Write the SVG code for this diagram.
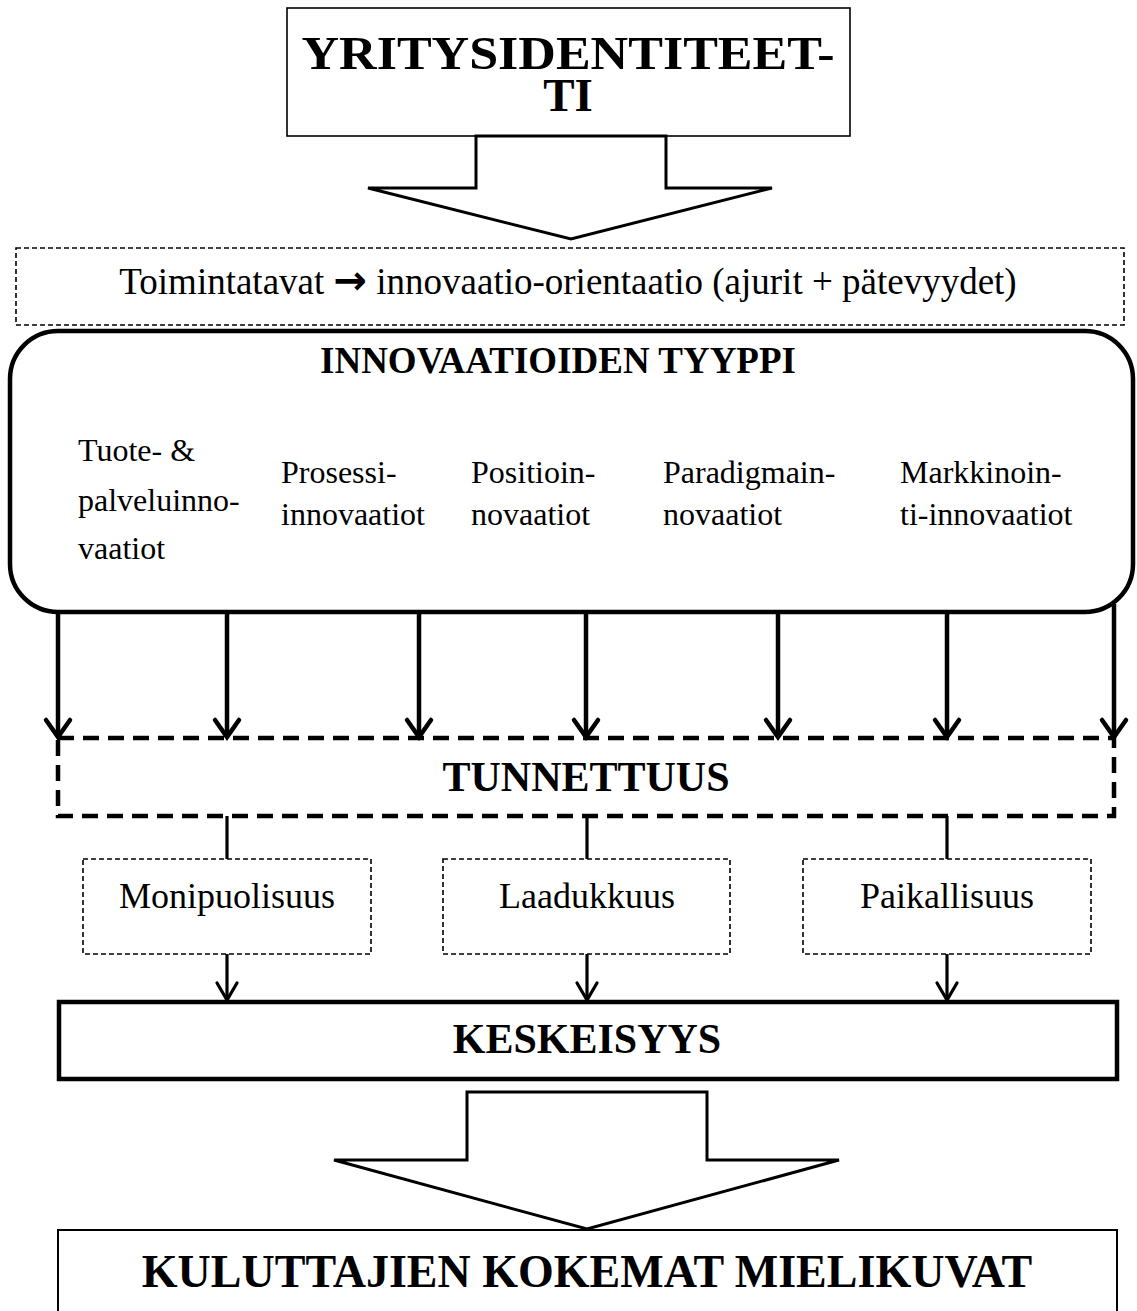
<svg xmlns="http://www.w3.org/2000/svg" width="1137" height="1311" viewBox="0 0 1137 1311">
<defs>
<style>
.t{font-family:"Liberation Serif","Times New Roman",serif;fill:#000}
.b{font-weight:bold}
.box{fill:#fff;stroke:#000}
.thin{stroke-width:1.6}
.dash{fill:#fff;stroke:#000;stroke-width:1.6;stroke-dasharray:5 3}
.hdash{fill:#fff;stroke:#000;stroke-width:4.5;stroke-dasharray:16 9}
.blk{fill:#fff;stroke:#000;stroke-width:3;stroke-linejoin:miter}
.c{fill:none;stroke:#000;stroke-width:4.5}
.c2{fill:none;stroke:#000;stroke-width:3.2}
</style>
<marker id="ah" markerUnits="userSpaceOnUse" viewBox="-20 -15 25 30" refX="0" refY="0" markerWidth="25" markerHeight="30" orient="auto" overflow="visible">
<path d="M-17,-12 L0,0 L-17,12" fill="none" stroke="#000" stroke-width="4.5" stroke-linejoin="miter" stroke-linecap="round"/>
</marker>
<marker id="ah2" markerUnits="userSpaceOnUse" viewBox="-20 -15 25 30" refX="0" refY="0" markerWidth="25" markerHeight="30" orient="auto" overflow="visible">
<path d="M-17,-10 L0,0 L-17,10" fill="none" stroke="#000" stroke-width="3.2" stroke-linejoin="miter" stroke-linecap="round"/>
</marker>
</defs>
<rect width="1137" height="1311" fill="#fff"/>

<g id="yritysidentiteetti">
<rect class="box thin" x="287" y="8" width="563" height="128"/>
<text class="t b" x="568" y="69" font-size="47" text-anchor="middle" textLength="533" lengthAdjust="spacingAndGlyphs">YRITYSIDENTITEET-</text>
<text class="t b" x="568" y="111" font-size="47" text-anchor="middle">TI</text>
</g>

<g id="arrow1">
<path class="blk" d="M476,136 L666,136 L666,188 L772,188 L571,239 L368,188 L476,188 Z"/>
</g>

<g id="toimintatavat">
<rect class="dash" x="16" y="248" width="1108" height="77"/>
<text class="t" x="568" y="294" font-size="37" text-anchor="middle">Toimintatavat <tspan font-family="DejaVu Sans, sans-serif" font-weight="bold" font-size="40">→</tspan> innovaatio-orientaatio (ajurit + pätevyydet)</text>
</g>

<g id="innovaatioiden-tyyppi">
<rect class="box" stroke-width="4.5" x="10" y="331" width="1123" height="281" rx="48" ry="48"/>
<text class="t b" x="558" y="373" font-size="37" text-anchor="middle">INNOVAATIOIDEN TYYPPI</text>
<text class="t" font-size="32"><tspan x="78" y="461">Tuote- &amp;</tspan><tspan x="78" y="511">palveluinno-</tspan><tspan x="78" y="559">vaatiot</tspan></text>
<text class="t" font-size="32"><tspan x="281" y="483">Prosessi-</tspan><tspan x="281" y="525">innovaatiot</tspan></text>
<text class="t" font-size="32"><tspan x="471" y="483">Positioin-</tspan><tspan x="471" y="525">novaatiot</tspan></text>
<text class="t" font-size="32"><tspan x="663" y="483">Paradigmain-</tspan><tspan x="663" y="525">novaatiot</tspan></text>
<text class="t" font-size="32"><tspan x="900" y="483">Markkinoin-</tspan><tspan x="900" y="525">ti-innovaatiot</tspan></text>
</g>

<g id="tunnettuus">
<rect class="hdash" x="58" y="738" width="1056" height="78"/>
<text class="t b" x="586" y="791" font-size="42" text-anchor="middle">TUNNETTUUS</text>
</g>

<g id="monipuolisuus">
<rect class="dash" x="83" y="859" width="288" height="95"/>
<text class="t" x="227" y="908" font-size="36" text-anchor="middle">Monipuolisuus</text>
</g>
<g id="laadukkuus">
<rect class="dash" x="443" y="859" width="287" height="95"/>
<text class="t" x="587" y="908" font-size="36" text-anchor="middle">Laadukkuus</text>
</g>
<g id="paikallisuus">
<rect class="dash" x="803" y="859" width="288" height="95"/>
<text class="t" x="947" y="908" font-size="36" text-anchor="middle">Paikallisuus</text>
</g>

<g id="keskeisyys">
<rect class="box" stroke-width="4.5" x="59" y="1002" width="1058" height="77"/>
<text class="t b" x="587" y="1053" font-size="42" text-anchor="middle">KESKEISYYS</text>
</g>

<g id="arrow2">
<path class="blk" d="M467,1092 L707,1092 L707,1160 L839,1160 L587,1229 L334,1160 L467,1160 Z"/>
</g>

<g id="mielikuvat">
<rect class="box" stroke-width="2" x="58" y="1230" width="1059" height="100"/>
<text class="t b" x="587" y="1287" font-size="46" text-anchor="middle">KULUTTAJIEN KOKEMAT MIELIKUVAT</text>
</g>

<g id="connectors">
<line class="c" x1="58" y1="610" x2="58" y2="737" marker-end="url(#ah)"/>
<line class="c" x1="227" y1="612" x2="227" y2="737" marker-end="url(#ah)"/>
<line class="c" x1="419" y1="612" x2="419" y2="737" marker-end="url(#ah)"/>
<line class="c" x1="586" y1="612" x2="586" y2="737" marker-end="url(#ah)"/>
<line class="c" x1="778" y1="612" x2="778" y2="737" marker-end="url(#ah)"/>
<line class="c" x1="947" y1="612" x2="947" y2="737" marker-end="url(#ah)"/>
<line class="c" x1="1114" y1="604" x2="1114" y2="737" marker-end="url(#ah)"/>
<line class="c2" x1="227" y1="816" x2="227" y2="859"/>
<line class="c2" x1="587" y1="816" x2="587" y2="859"/>
<line class="c2" x1="947" y1="816" x2="947" y2="859"/>
<line class="c2" x1="227" y1="954" x2="227" y2="1000" marker-end="url(#ah2)"/>
<line class="c2" x1="587" y1="954" x2="587" y2="1000" marker-end="url(#ah2)"/>
<line class="c2" x1="947" y1="954" x2="947" y2="1000" marker-end="url(#ah2)"/>
</g>
</svg>
